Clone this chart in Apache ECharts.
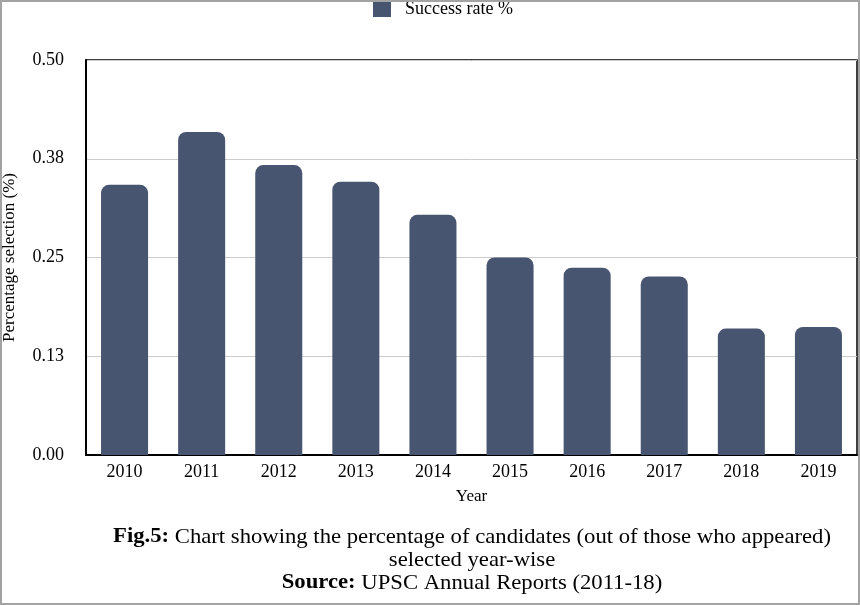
<!DOCTYPE html>
<html>
<head>
<meta charset="utf-8">
<script src="https://cdn.jsdelivr.net/npm/echarts@6/dist/echarts.min.js"></script>
<style>
html,body{margin:0;padding:0;background:#fff;}
#wrap{position:relative;width:860px;height:605px;}
#chart{width:860px;height:605px;}
#frame{position:absolute;left:0;top:0;width:860px;height:605px;box-sizing:border-box;border:2px solid #a3a3a3;pointer-events:none;}
</style>
</head>
<body>
<div id="wrap"><div id="chart"></div><div id="frame"></div></div>
<script>
const years = ['2010','2011','2012','2013','2014','2015','2016','2017','2018','2019'];
const successRate = [0.342, 0.409, 0.367, 0.346, 0.304, 0.250, 0.237, 0.226, 0.160, 0.162];
const seriesName = 'Success rate %';
const yTicks = [0, 0.125, 0.25, 0.375, 0.5];

const font = '"Liberation Serif", "Times New Roman", serif';
const chart = echarts.init(document.getElementById('chart'), null, {renderer:'canvas'});
chart.setOption({
  animation:false,
  textStyle:{fontFamily:font},
  legend:{
    data:[seriesName], left:373, top:0, padding:0,
    itemWidth:18, itemHeight:16, icon:'rect',
    textStyle:{fontFamily:font, fontSize:18, color:'#000', padding:[2,0,0,9]}
  },
  grid:{left:86, right:3, top:60, bottom:150, outerBoundsMode:'none', containLabel:false,
        show:true, borderColor:'#000', borderWidth:1.5},
  xAxis:{
    type:'category', data:years,
    name:'Year', nameLocation:'middle', nameGap:33,
    nameTextStyle:{fontFamily:font, fontSize:17, color:'#000'},
    axisLine:{lineStyle:{color:'#000', width:2}},
    axisTick:{show:false},
    axisLabel:{fontFamily:font, fontSize:18, color:'#000', margin:8}
  },
  yAxis:{
    type:'value', min:yTicks[0], max:yTicks[yTicks.length-1], interval:yTicks[1]-yTicks[0],
    name:'Percentage selection (%)', nameLocation:'middle', nameGap:68, nameRotate:90,
    nameTextStyle:{fontFamily:font, fontSize:17, color:'#000'},
    axisLine:{show:true, lineStyle:{color:'#000', width:2}},
    axisTick:{show:false},
    axisLabel:{fontFamily:font, fontSize:18, color:'#000', margin:22, formatter:v=>v.toFixed(2)},
    splitLine:{lineStyle:{color:'#cccccc', width:1}}
  },
  series:[{
    name:seriesName, type:'bar', data:successRate,
    barWidth:'61%',
    itemStyle:{color:'#485570', borderRadius:[8,8,0,0]}
  }],
  graphic:[
    {type:'text', x:472, y:537, scaleX:1.08, style:{
      text:'{b|Fig.5:} Chart showing the percentage of candidates (out of those who appeared)',
      font:'21px '+font, fill:'#000', align:'center', verticalAlign:'middle',
      rich:{b:{fontWeight:'bold', fontSize:21, fontFamily:font, fill:'#000'}}
    }},
    {type:'text', x:472, y:560, scaleX:1.08, style:{
      text:'selected year-wise', font:'21px '+font, fill:'#000', align:'center', verticalAlign:'middle'
    }},
    {type:'text', x:472, y:583, scaleX:1.08, style:{
      text:'{b|Source:} UPSC Annual Reports (2011-18)',
      font:'21px '+font, fill:'#000', align:'center', verticalAlign:'middle',
      rich:{b:{fontWeight:'bold', fontSize:21, fontFamily:font, fill:'#000'}}
    }}
  ]
});
</script>
</body>
</html>
